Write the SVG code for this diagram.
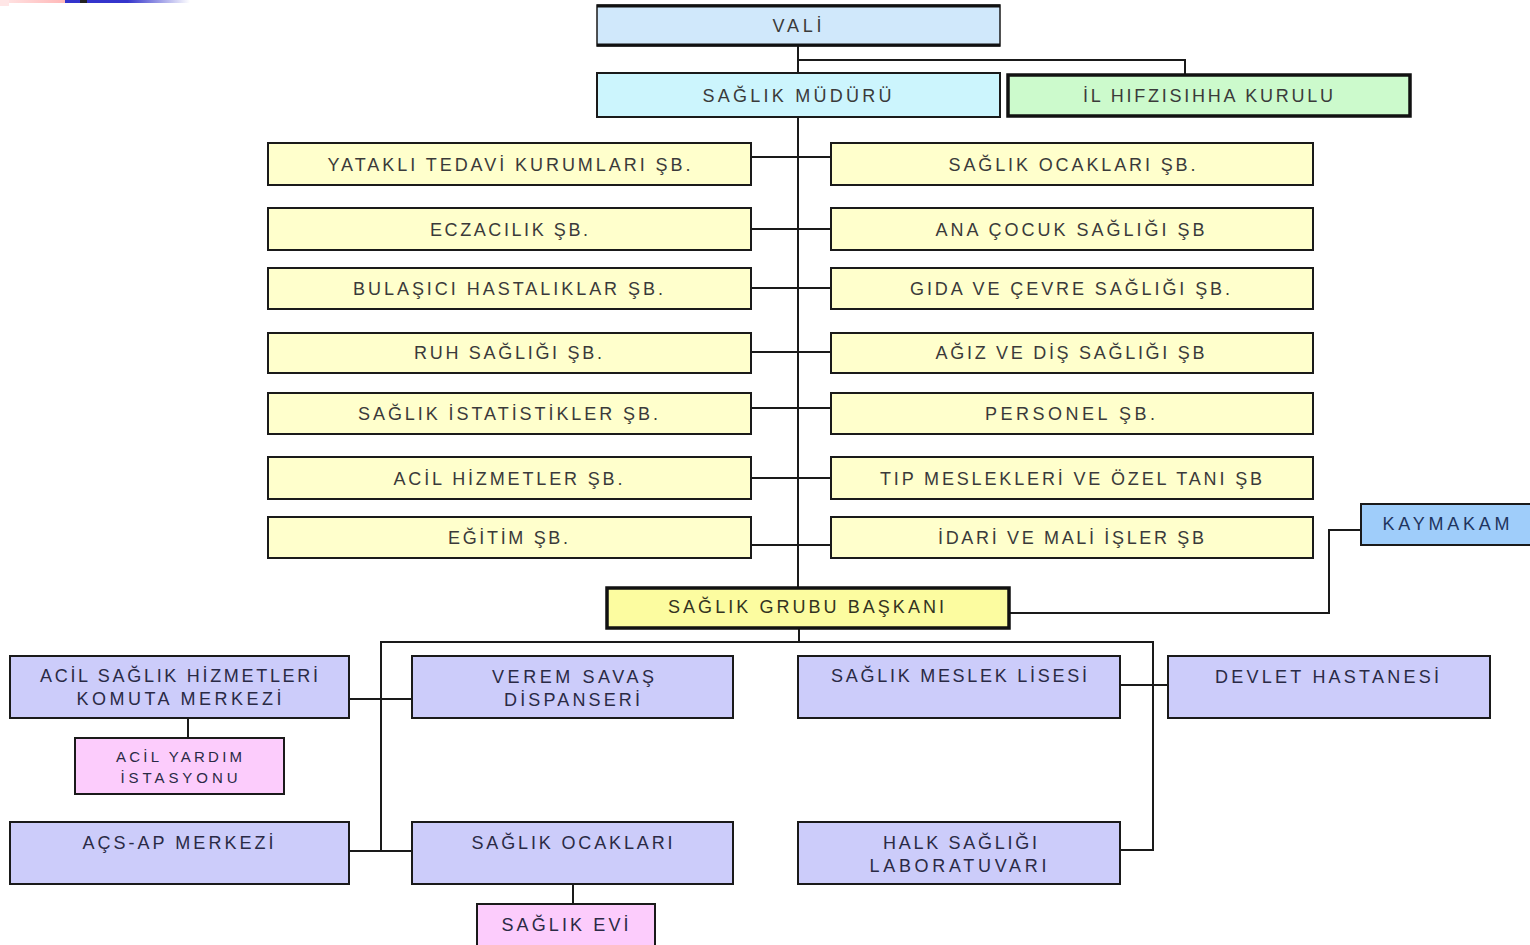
<svg xmlns="http://www.w3.org/2000/svg" width="1530" height="945" viewBox="0 0 1530 945">
<defs>
<linearGradient id="gBlue" x1="0" y1="0" x2="1" y2="0">
<stop offset="0" stop-color="#3333cc"/>
<stop offset="0.5" stop-color="#3535cc"/>
<stop offset="1" stop-color="#ffffff"/>
</linearGradient>
<linearGradient id="gPink" x1="0" y1="0" x2="1" y2="0">
<stop offset="0" stop-color="#ffe6e6"/>
<stop offset="1" stop-color="#ffb8b8"/>
</linearGradient>
</defs>
<style>
.box{stroke:#1a1a1a;stroke-width:2}
.thick{stroke:#111;stroke-width:3.5}
.y{fill:#ffffcc}
.lav{fill:#ccccfa}
.pink{fill:#fcccfc}
.t{font-family:"Liberation Sans",Arial,sans-serif;font-size:18px;fill:#3a3a3a;text-anchor:middle}
.tb{font-family:"Liberation Sans",Arial,sans-serif;font-size:18px;fill:#2a2a45;text-anchor:middle}
.ts{font-family:"Liberation Sans",Arial,sans-serif;font-size:15px;fill:#2a2a45;text-anchor:middle}
.c{fill:none;stroke:#1a1a1a;stroke-width:2}
</style>
<rect width="1530" height="945" fill="#ffffff"/>
<g id="decor">
<rect x="0" y="0" width="65" height="3" fill="url(#gPink)"/>
<rect x="0" y="0" width="9" height="6" fill="#ffe6e6"/>
<rect x="65" y="0" width="125" height="3" fill="url(#gBlue)"/>
<rect x="80" y="0" width="7" height="3" fill="#222222"/>
</g>
<g id="connectors">
<path class="c" d="M798 46 V73"/>
<path class="c" d="M798 60 H1185 V74"/>
<path class="c" d="M798 117 V587"/>
<path class="c" d="M751 157 H831"/>
<path class="c" d="M751 229 H831"/>
<path class="c" d="M751 288 H831"/>
<path class="c" d="M751 352 H831"/>
<path class="c" d="M751 408 H831"/>
<path class="c" d="M751 478 H831"/>
<path class="c" d="M751 545 H831"/>
<path class="c" d="M1009 613 H1329 V530 H1361"/>
<path class="c" d="M799 629 V642"/>
<path class="c" d="M381 851 V642 H1153 V850 H1120"/>
<path class="c" d="M349 699 H412"/>
<path class="c" d="M349 851 H412"/>
<path class="c" d="M188 718 V738"/>
<path class="c" d="M1120 685 H1168"/>
<path class="c" d="M573 884 V904"/>
</g>
<g id="vali">
<rect x="597" y="5" width="403" height="41" fill="#d0e8fb" stroke="#1a1a1a" stroke-width="1.5"/>
<path d="M597 6 H1000 M597 45 H1000" stroke="#111" stroke-width="3"/>
<text class="t" x="797" y="32" textLength="49" lengthAdjust="spacing">VALİ</text>
</g>
<g id="saglik-muduru">
<rect class="box" x="597" y="73" width="403" height="44" fill="#ccf5fd"/>
<text class="t" x="797" y="102" textLength="189" lengthAdjust="spacing">SAĞLIK MÜDÜRÜ</text>
</g>
<g id="il-hifzisihha">
<rect class="thick" x="1008" y="75" width="402" height="41" fill="#ccfacc"/>
<text class="t" x="1208" y="102" textLength="250" lengthAdjust="spacing">İL HIFZISIHHA KURULU</text>
</g>
<g id="yatakli">
<rect class="box y" x="268" y="143" width="483" height="42"/>
<text class="t" x="509" y="171" textLength="363" lengthAdjust="spacing">YATAKLI TEDAVİ KURUMLARI ŞB.</text>
</g>
<g id="saglik-ocaklari-sb">
<rect class="box y" x="831" y="143" width="482" height="42"/>
<text class="t" x="1072" y="171" textLength="247" lengthAdjust="spacing">SAĞLIK OCAKLARI ŞB.</text>
</g>
<g id="eczacilik">
<rect class="box y" x="268" y="208" width="483" height="42"/>
<text class="t" x="509" y="236" textLength="158" lengthAdjust="spacing">ECZACILIK ŞB.</text>
</g>
<g id="ana-cocuk">
<rect class="box y" x="831" y="208" width="482" height="42"/>
<text class="t" x="1070" y="236" textLength="269" lengthAdjust="spacing">ANA ÇOCUK SAĞLIĞI ŞB</text>
</g>
<g id="bulasici">
<rect class="box y" x="268" y="268" width="483" height="41"/>
<text class="t" x="508" y="295" textLength="310" lengthAdjust="spacing">BULAŞICI HASTALIKLAR ŞB.</text>
</g>
<g id="gida">
<rect class="box y" x="831" y="268" width="482" height="41"/>
<text class="t" x="1070" y="295" textLength="320" lengthAdjust="spacing">GIDA VE ÇEVRE SAĞLIĞI ŞB.</text>
</g>
<g id="ruh">
<rect class="box y" x="268" y="333" width="483" height="40"/>
<text class="t" x="508" y="359" textLength="188" lengthAdjust="spacing">RUH SAĞLIĞI ŞB.</text>
</g>
<g id="agiz">
<rect class="box y" x="831" y="333" width="482" height="40"/>
<text class="t" x="1070" y="359" textLength="269" lengthAdjust="spacing">AĞIZ VE DİŞ SAĞLIĞI ŞB</text>
</g>
<g id="istatistik">
<rect class="box y" x="268" y="393" width="483" height="41"/>
<text class="t" x="508" y="420" textLength="300" lengthAdjust="spacing">SAĞLIK İSTATİSTİKLER ŞB.</text>
</g>
<g id="personel">
<rect class="box y" x="831" y="393" width="482" height="41"/>
<text class="t" x="1070" y="420" textLength="170" lengthAdjust="spacing">PERSONEL ŞB.</text>
</g>
<g id="acil-hizmetler">
<rect class="box y" x="268" y="457" width="483" height="42"/>
<text class="t" x="508" y="485" textLength="229" lengthAdjust="spacing">ACİL HİZMETLER ŞB.</text>
</g>
<g id="tip">
<rect class="box y" x="831" y="457" width="482" height="42"/>
<text class="t" x="1071" y="485" textLength="382" lengthAdjust="spacing">TIP MESLEKLERİ VE ÖZEL TANI ŞB</text>
</g>
<g id="egitim">
<rect class="box y" x="268" y="517" width="483" height="41"/>
<text class="t" x="508" y="544" textLength="120" lengthAdjust="spacing">EĞİTİM ŞB.</text>
</g>
<g id="idari">
<rect class="box y" x="831" y="517" width="482" height="41"/>
<text class="t" x="1071" y="544" textLength="266" lengthAdjust="spacing">İDARİ VE MALİ İŞLER ŞB</text>
</g>
<g id="kaymakam">
<rect class="box" x="1361" y="504" width="172" height="41" fill="#9fcdfa"/>
<text class="t" x="1446" y="530" textLength="127" lengthAdjust="spacing" style="fill:#1f3560">KAYMAKAM</text>
</g>
<g id="saglik-grubu-baskani">
<rect class="thick" x="607" y="588" width="402" height="40" fill="#fcfca0"/>
<text class="t" x="806" y="613" textLength="276" lengthAdjust="spacing" style="fill:#333320">SAĞLIK GRUBU BAŞKANI</text>
</g>
<g id="acil-saglik-komuta">
<rect class="box lav" x="10" y="656" width="339" height="62"/>
<text class="tb" x="179" y="682" textLength="278" lengthAdjust="spacing">ACİL SAĞLIK HİZMETLERİ</text>
<text class="tb" x="179" y="705" textLength="205" lengthAdjust="spacing">KOMUTA MERKEZİ</text>
</g>
<g id="acil-yardim">
<rect class="box pink" x="75" y="738" width="209" height="56"/>
<text class="ts" x="179" y="762" textLength="126" lengthAdjust="spacing">ACİL YARDIM</text>
<text class="ts" x="179" y="783" textLength="117" lengthAdjust="spacing">İSTASYONU</text>
</g>
<g id="verem">
<rect class="box lav" x="412" y="656" width="321" height="62"/>
<text class="tb" x="573" y="683" textLength="162" lengthAdjust="spacing">VEREM SAVAŞ</text>
<text class="tb" x="572" y="706" textLength="136" lengthAdjust="spacing">DİSPANSERİ</text>
</g>
<g id="meslek-lisesi">
<rect class="box lav" x="798" y="656" width="322" height="62"/>
<text class="tb" x="959" y="682" textLength="256" lengthAdjust="spacing">SAĞLIK MESLEK LİSESİ</text>
</g>
<g id="devlet-hastanesi">
<rect class="box lav" x="1168" y="656" width="322" height="62"/>
<text class="tb" x="1327" y="683" textLength="224" lengthAdjust="spacing">DEVLET HASTANESİ</text>
</g>
<g id="acs-ap">
<rect class="box lav" x="10" y="822" width="339" height="62"/>
<text class="tb" x="178" y="849" textLength="191" lengthAdjust="spacing">AÇS-AP MERKEZİ</text>
</g>
<g id="saglik-ocaklari">
<rect class="box lav" x="412" y="822" width="321" height="62"/>
<text class="tb" x="572" y="849" textLength="201" lengthAdjust="spacing">SAĞLIK OCAKLARI</text>
</g>
<g id="halk-sagligi">
<rect class="box lav" x="798" y="822" width="322" height="62"/>
<text class="tb" x="960" y="849" textLength="154" lengthAdjust="spacing">HALK SAĞLIĞI</text>
<text class="tb" x="958" y="872" textLength="177" lengthAdjust="spacing">LABORATUVARI</text>
</g>
<g id="saglik-evi">
<rect class="box pink" x="477" y="904" width="178" height="42"/>
<text class="tb" x="565" y="931" textLength="127" lengthAdjust="spacing">SAĞLIK EVİ</text>
</g>
</svg>
